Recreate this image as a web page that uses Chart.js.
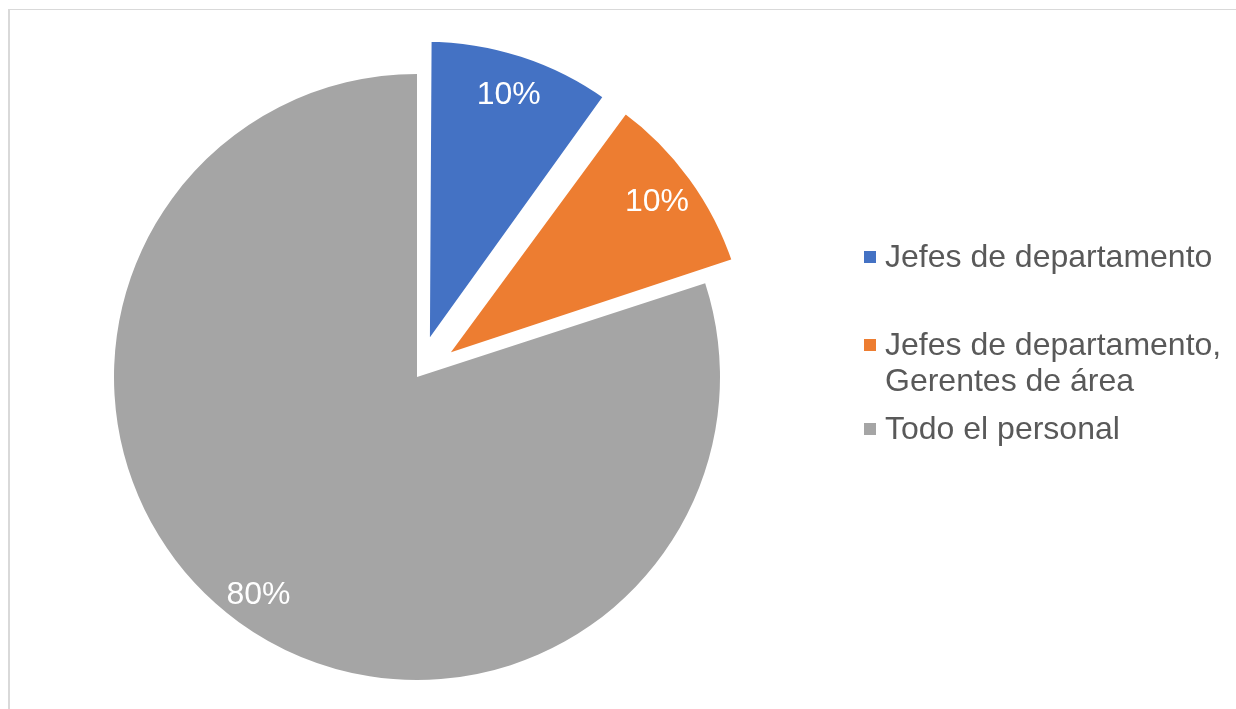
<!DOCTYPE html>
<html lang="es">
<head>
<meta charset="utf-8">
<title>Distribución por cargo</title>
<script src="https://cdn.jsdelivr.net/npm/chart.js@4.4.1/dist/chart.umd.min.js"></script>
<style>
  html, body { margin: 0; padding: 0; background: #ffffff; overflow: hidden; }
  #wrap { position: relative; width: 1236px; height: 709px; }
  #frame {
    position: absolute; left: 8px; top: 9px; width: 1400px; height: 900px;
    border-left: 2px solid #d9d9d9; border-top: 1px solid #d9d9d9;
  }
  #pie { position: absolute; left: 0; top: 0; }
  #legend {
    position: absolute; left: 864px; top: 0; width: 370px;
    font-family: "Liberation Sans", Arial, sans-serif; font-size: 32px;
    line-height: 36px; color: #595959;
  }
  .item { position: absolute; left: 0; width: 370px; }
  .swatch { position: absolute; left: 0; width: 12px; height: 12px; }
  .text { position: absolute; left: 21px; width: 345px; }
</style>
</head>
<body>
<div id="wrap">
  <div id="frame"></div>
  <canvas id="pie" width="1236" height="709"></canvas>
  <div id="legend"></div>
</div>
<script>
// Categories and their share of respondents (%)
const categories = [
  'Jefes de departamento',
  'Jefes de departamento, Gerentes de área',
  'Todo el personal'
];
const shares = [10, 10, 80];

// Office palette for the slices
const sliceColors = ['#4472C4', '#ED7D31', '#A5A5A5'];
// The two small slices are pulled out of the pie
const explode = [108, 108, 0];
const explodeBorder = [9, 9, 0];

// White percentage labels inside each slice
const sliceLabels = {
  id: 'sliceLabels',
  afterDatasetsDraw(chart) {
    const ctx = chart.ctx;
    const meta = chart.getDatasetMeta(0);
    ctx.save();
    ctx.font = '32px "Liberation Sans", Arial, sans-serif';
    ctx.fillStyle = '#ffffff';
    ctx.textAlign = 'center';
    ctx.textBaseline = 'middle';
    meta.data.forEach((arc, i) => {
      const p = arc.getProps(['x', 'y', 'startAngle', 'endAngle', 'outerRadius'], true);
      const mid = (p.startAngle + p.endAngle) / 2;
      const shift = (arc.options.offset || 0) / 4;
      const r = shift + p.outerRadius * 0.89;
      ctx.fillText(shares[i] + '%', p.x + Math.cos(mid) * r, p.y + Math.sin(mid) * r);
    });
    ctx.restore();
  }
};

const chart = new Chart(document.getElementById('pie'), {
  type: 'pie',
  data: {
    labels: categories,
    datasets: [{
      data: shares,
      backgroundColor: sliceColors,
      borderColor: '#ffffff',
      borderWidth: explodeBorder,
      offset: explode,
      hoverOffset: 0
    }]
  },
  options: {
    responsive: false,
    animation: false,
    events: [],
    radius: 303,
    layout: { padding: { left: 0, right: 402, top: 45, bottom: 0 } },
    plugins: {
      legend: { display: false },
      tooltip: { enabled: false }
    }
  },
  plugins: [sliceLabels]
});

// Legend built from the chart's own legend items
const legendTops = [238, 326, 410];
const legendEl = document.getElementById('legend');
chart.options.plugins.legend.labels.generateLabels(chart).forEach((item, i) => {
  const row = document.createElement('div');
  row.className = 'item';
  row.style.top = legendTops[i] + 'px';
  const sw = document.createElement('span');
  sw.className = 'swatch';
  sw.style.background = item.fillStyle;
  sw.style.top = '13px';
  const tx = document.createElement('span');
  tx.className = 'text';
  tx.textContent = item.text;
  row.appendChild(sw);
  row.appendChild(tx);
  legendEl.appendChild(row);
});
</script>
</body>
</html>
